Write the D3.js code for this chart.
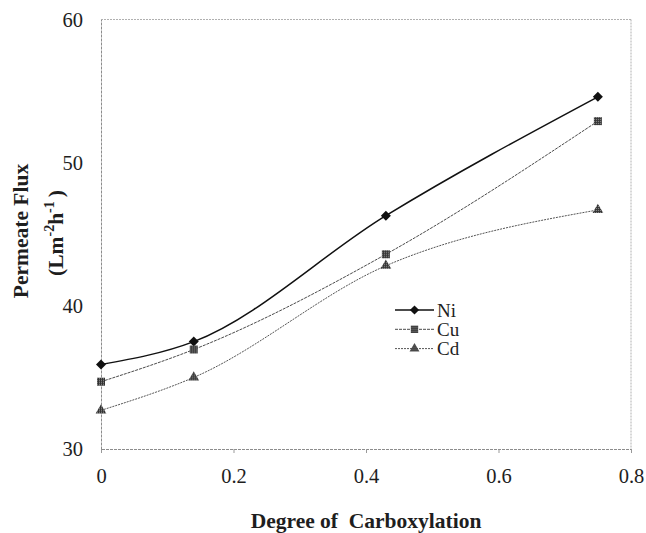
<!DOCTYPE html>
<html>
<head>
<meta charset="utf-8">
<script src="https://cdn.jsdelivr.net/npm/d3@7/dist/d3.min.js"></script>
</head>
<body style="margin:0;background:#fff">
<svg id="chart" width="646" height="533"></svg>
<script>
// Degree of carboxylation (x) and permeate flux for each metal ion
const carboxylation = [0, 0.14, 0.43, 0.75];
const fluxNi = [35.9, 37.5, 46.3, 54.6];
const fluxCu = [34.7, 36.95, 43.6, 52.9];
const fluxCd = [32.7, 35.0, 42.8, 46.7];
const seriesNames = ["Ni", "Cu", "Cd"];
const xTicks = [0, 0.2, 0.4, 0.6, 0.8];
const yTicks = [30, 40, 50, 60];

const svg = d3.select("#chart");
const plot = { left: 101, right: 631, top: 19.5, bottom: 449 };

const x = d3.scaleLinear().domain([0, 0.8]).range([plot.left, plot.right]);
const y = d3.scaleLinear().domain([30, 60]).range([plot.bottom, plot.top]);

// Plain serif label helper: family as inline style, size/weight as attributes
function label(sel, size, bold) {
  return sel.style("font-family", "'Liberation Serif'")
    .attr("font-size", size + "px")
    .attr("font-weight", bold ? "bold" : null)
    .attr("fill", "#1e1e1e");
}

// Marker fill pattern (dotted grey look of the Cu and Cd symbols)
const defs = svg.append("defs");
const pat = defs.append("pattern").attr("id", "grid").attr("width", 2).attr("height", 2)
  .attr("patternUnits", "userSpaceOnUse");
pat.append("rect").attr("width", 2).attr("height", 2).attr("fill", "#333");
pat.append("rect").attr("width", 1).attr("height", 1).attr("fill", "#9a9a9a");

// Plot frame (top and right edges)
const frame = svg.append("g").attr("fill", "none").attr("stroke-width", 1);
frame.append("line").attr("x1", plot.left).attr("x2", plot.right).attr("y1", plot.top).attr("y2", plot.top)
  .attr("stroke", "#b0b0b0").attr("stroke-dasharray", "2,1");
frame.append("line").attr("x1", plot.right).attr("x2", plot.right).attr("y1", plot.top).attr("y2", plot.bottom)
  .attr("stroke", "#b0b0b0").attr("stroke-dasharray", "2,1");

// Axes
const xAxis = d3.axisBottom(x).tickValues(xTicks).tickSize(4).tickPadding(15)
  .tickFormat(d => d === 0 ? "0" : d3.format(".1f")(d));
const gx = svg.append("g").attr("transform", `translate(0,${plot.bottom})`).call(xAxis)
  .attr("font-family", null).attr("font-size", null);
gx.select(".domain").attr("stroke", "#8c8c8c").attr("stroke-dasharray", "3,1");
gx.selectAll(".tick line").attr("stroke", "#999");
label(gx.selectAll("text"), 20.5, false);

const yAxis = d3.axisLeft(y).tickValues(yTicks).tickSize(0).tickPadding(18);
const gy = svg.append("g").attr("transform", `translate(${plot.left},0)`).call(yAxis)
  .attr("font-family", null).attr("font-size", null);
gy.select(".domain").attr("stroke", "#8c8c8c").attr("stroke-dasharray", "3,1");
label(gy.selectAll("text"), 20.5, false);

// Axis titles
label(svg.append("text"), 21.5, true)
  .attr("x", (plot.left + plot.right) / 2).attr("y", 528)
  .attr("text-anchor", "middle")
  .attr("xml:space", "preserve")
  .text("Degree of  Carboxylation");

label(svg.append("g").attr("transform", "translate(28,231) rotate(-90)").append("text"), 21.5, true)
  .attr("text-anchor", "middle")
  .text("Permeate Flux");
const unit = label(svg.append("g").attr("transform", "translate(63,233) rotate(-90)").append("text"), 21.5, true)
  .attr("text-anchor", "middle");
unit.append("tspan").text("(Lm");
unit.append("tspan").attr("dy", -9).attr("font-size", "14px").text("-2");
unit.append("tspan").attr("dy", 9).text("h");
unit.append("tspan").attr("dy", -9).attr("font-size", "14px").text("-1");
unit.append("tspan").attr("dy", 9).attr("dx", 4).text(")");

// Series (the Ni diamond is a square turned 45 degrees)
const series = [
  { name: seriesNames[0], values: fluxNi, stroke: "#111", width: 1.5, dash: null, symbol: d3.symbolSquare, size: 50, rot: 45, fill: "#111" },
  { name: seriesNames[1], values: fluxCu, stroke: "#4a4a4a", width: 1, dash: "3,1", symbol: d3.symbolSquare, size: 64, rot: 0, fill: "url(#grid)" },
  { name: seriesNames[2], values: fluxCd, stroke: "#555", width: 1, dash: "2,1", symbol: d3.symbolTriangle, size: 50, rot: 0, fill: "url(#grid)" }
];

const line = d3.line()
  .x(d => x(d[0])).y(d => y(d[1]))
  .curve(d3.curveMonotoneX);

series.forEach(s => {
  const pts = carboxylation.map((c, i) => [c, s.values[i]]);
  svg.append("path").datum(pts).attr("d", line)
    .attr("fill", "none").attr("stroke", s.stroke).attr("stroke-width", s.width)
    .attr("stroke-dasharray", s.dash);
  svg.append("g").selectAll("path").data(pts).join("path")
    .attr("transform", d => `translate(${x(d[0])},${y(d[1])}) rotate(${s.rot})`)
    .attr("d", d3.symbol().type(s.symbol).size(s.size))
    .attr("fill", s.fill);
});

// Legend
const legend = svg.append("g").attr("transform", "translate(395,310)");
series.forEach((s, i) => {
  const g = legend.append("g").attr("transform", `translate(0,${i * 19.3})`);
  g.append("line").attr("x1", 0).attr("x2", 39).attr("y1", 0).attr("y2", 0)
    .attr("stroke", s.stroke).attr("stroke-width", s.width).attr("stroke-dasharray", s.dash);
  g.append("path").attr("transform", `translate(19.5,0) rotate(${s.rot})`)
    .attr("d", d3.symbol().type(s.symbol).size(s.size * 0.85)).attr("fill", s.fill);
  label(g.append("text"), 19, false).attr("x", 42).attr("y", 6.5).text(s.name);
});
</script>
</body>
</html>
